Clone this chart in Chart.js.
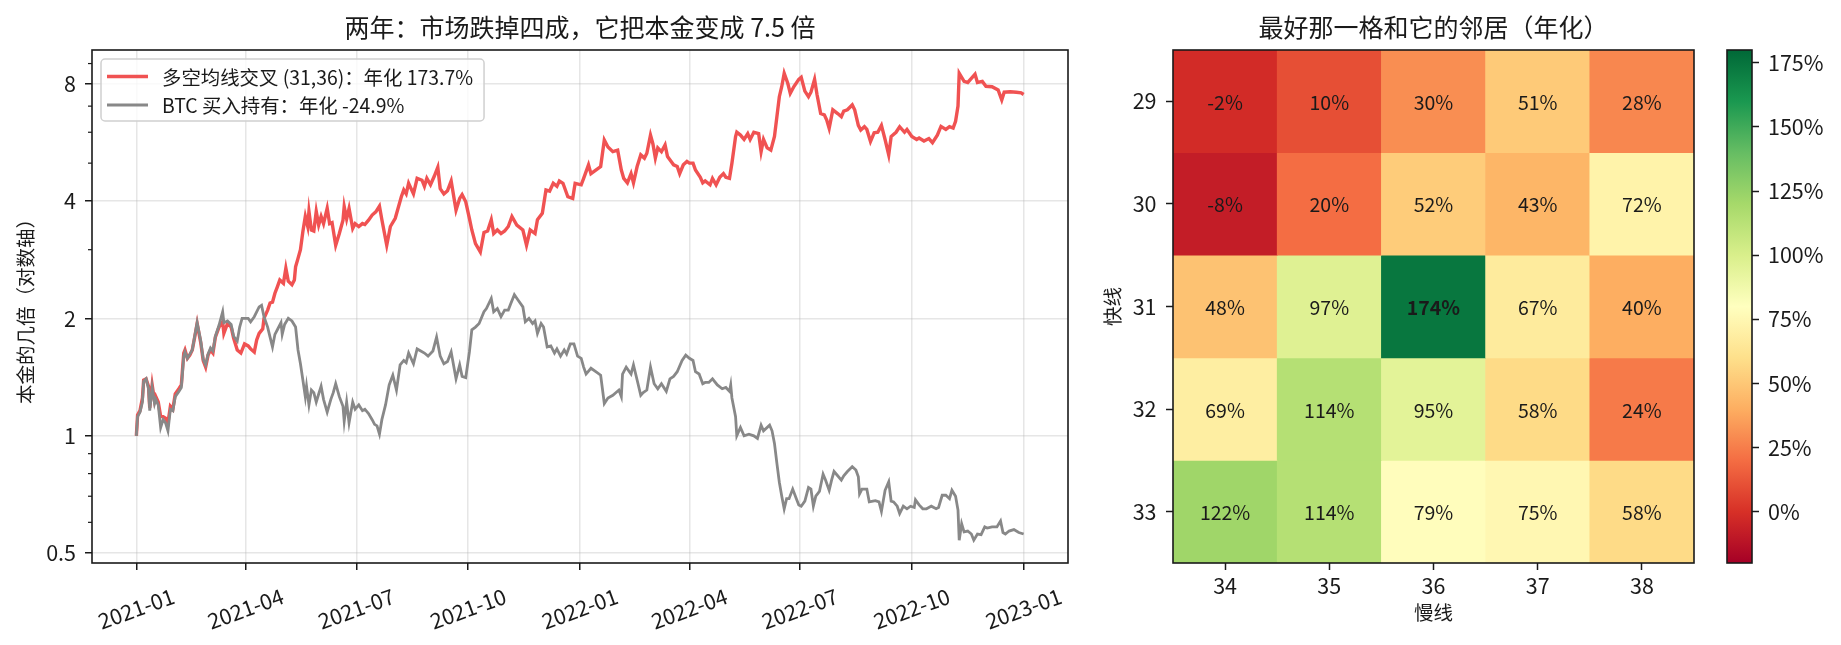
<!DOCTYPE html>
<html>
<head>
<meta charset="utf-8">
<script src="https://cdn.jsdelivr.net/npm/chart.js@4"></script>
<style>
  body { margin: 0; background: #fff; }
  #wrap { position: relative; width: 1841px; height: 645px; }
  canvas { position: absolute; top: 0; }
</style>
</head>
<body>
<div id="wrap">
  <canvas id="curve" width="1100" height="645" style="left:0"></canvas>
  <canvas id="grid" width="610" height="645" style="left:1100px"></canvas>
  <canvas id="cbar" width="131" height="645" style="left:1710px"></canvas>
</div>
<script>
// 左图：净值曲线（按天，起点 2021-01-01）
const startDate = "2021-01-01";
const xTickLabels = ["2021-01", "2021-04", "2021-07", "2021-10", "2022-01", "2022-04", "2022-07", "2022-10", "2023-01"];
const yTickValues = [0.5, 1, 2, 4, 8];
const yMinorValues = [0.6, 0.7, 0.8, 0.9, 3, 5, 6, 7, 9];

const strategyDays = [0,1,3,5,6,8,10,11,13,15,16,18,20,22,24,26,28,30,32,35,37,39,40,42,44,46,48,50,53,55,57,59,61,63,65,68,71,72,75,78,80,83,86,89,92,94,97,99,101,104,105,108,110,112,114,116,118,121,123,125,128,130,131,133,135,137,139,141,142,144,146,148,150,152,154,157,159,161,164,167,170,171,173,175,178,180,183,186,188,191,194,197,200,202,206,209,213,218,220,222,224,228,231,235,237,239,242,245,248,250,253,256,259,263,266,268,271,274,276,279,283,286,289,292,294,297,300,303,306,309,313,318,321,324,328,330,334,337,340,343,346,348,351,355,359,361,366,368,372,374,378,382,385,388,392,396,399,401,404,407,409,412,415,418,420,423,425,427,429,432,435,437,440,442,445,447,450,453,455,458,460,464,466,468,472,474,477,480,483,485,488,490,493,494,497,500,503,505,508,512,514,516,519,522,525,527,529,531,533,536,538,541,545,547,550,553,555,558,560,563,566,568,570,573,577,580,582,585,589,591,594,596,599,601,604,607,610,613,616,619,621,625,628,632,634,638,642,644,648,652,655,659,662,666,669,672,674,676,677,681,684,687,690,692,696,699,704,709,712,714,719,724,728,730];
const strategyValues = [1.00,1.13,1.16,1.25,1.39,1.40,1.34,1.18,1.35,1.23,1.26,1.22,1.12,1.12,1.11,1.08,1.19,1.17,1.28,1.32,1.35,1.63,1.66,1.58,1.61,1.66,1.79,1.94,1.73,1.56,1.50,1.61,1.66,1.63,1.79,1.90,1.96,1.83,1.94,1.90,1.78,1.66,1.63,1.72,1.70,1.67,1.64,1.76,1.83,1.88,2.00,2.10,2.19,2.20,2.32,2.41,2.51,2.46,2.69,2.49,2.44,2.51,2.71,2.85,3.00,3.34,3.65,3.44,3.76,3.37,3.35,3.76,3.47,3.65,3.50,3.83,3.50,3.52,3.08,3.30,3.57,3.87,3.60,3.83,3.40,3.50,3.44,3.50,3.48,3.57,3.68,3.75,3.88,3.58,3.08,3.44,3.61,4.10,4.27,4.17,4.44,4.17,4.57,4.52,4.36,4.57,4.40,4.62,4.88,4.30,4.17,4.25,4.50,3.79,4.06,4.15,3.98,3.61,3.37,3.11,2.96,3.32,3.35,3.58,3.30,3.37,3.30,3.35,3.44,3.65,3.47,3.37,3.08,3.37,3.30,3.58,3.72,4.27,4.24,4.44,4.36,4.50,4.44,4.10,4.06,4.44,4.40,4.57,4.95,4.70,4.80,4.90,5.73,5.50,5.35,5.40,4.80,4.57,4.45,4.70,4.45,4.90,5.25,5.15,5.30,5.90,5.60,5.15,5.47,5.35,5.57,5.20,5.05,4.95,4.90,4.70,4.95,5.05,5.00,5.00,4.80,4.60,4.45,4.50,4.40,4.57,4.40,4.60,4.70,4.60,4.57,5.00,5.85,6.00,5.90,5.75,5.95,5.75,6.00,5.95,5.35,5.75,5.47,5.40,5.85,6.58,7.40,7.86,8.50,8.00,7.55,7.86,8.20,8.30,7.65,7.40,7.60,8.20,7.50,6.70,6.65,6.45,6.14,6.85,6.70,6.58,6.80,6.85,7.05,6.85,6.25,6.08,6.20,6.10,5.68,5.98,6.00,6.25,5.75,5.25,5.85,6.00,6.20,6.00,6.10,5.85,5.75,5.80,5.70,5.78,5.64,5.90,6.21,6.10,6.20,6.15,6.40,7.00,8.50,8.10,8.05,8.25,8.45,8.05,8.10,7.87,7.85,7.70,7.26,7.60,7.62,7.60,7.57,7.50];

const btcDays = [0,1,3,5,6,8,10,11,13,15,16,18,20,22,24,26,28,30,32,35,37,39,40,42,44,46,48,50,53,55,57,59,61,63,65,68,71,72,75,78,80,83,85,87,89,92,94,97,101,103,105,108,110,112,114,116,119,120,122,125,128,131,133,135,137,139,140,142,144,146,148,150,152,154,157,160,162,164,167,170,171,173,175,178,180,183,186,188,191,194,196,198,200,202,205,208,211,214,217,220,222,224,228,231,234,237,240,244,247,250,253,256,259,263,266,268,271,274,276,279,282,286,288,292,294,297,300,303,306,308,311,314,318,320,323,326,328,330,333,335,338,341,344,346,349,352,354,357,360,363,366,368,370,374,378,382,385,388,392,397,399,400,403,407,409,412,415,417,420,423,426,429,432,436,439,442,445,449,452,455,458,460,463,466,468,471,474,478,482,485,488,489,490,493,494,497,500,504,508,511,514,516,521,523,525,527,529,531,533,535,537,540,543,545,547,550,553,555,557,559,562,565,567,570,572,574,577,580,582,585,589,592,594,595,597,601,603,606,608,611,613,616,619,621,623,626,628,631,634,637,640,641,644,647,650,652,654,658,660,663,666,669,671,674,676,677,679,681,684,687,689,692,695,698,700,704,708,711,713,715,718,722,726,730];
const btcValues = [1.00,1.12,1.15,1.22,1.38,1.40,1.32,1.16,1.33,1.21,1.24,1.20,1.05,1.10,1.08,1.03,1.17,1.16,1.26,1.30,1.33,1.60,1.64,1.58,1.62,1.66,1.80,1.95,1.75,1.57,1.52,1.62,1.68,1.65,1.80,1.92,2.08,1.95,1.97,1.93,1.80,1.75,1.90,2.00,2.00,2.00,1.96,2.02,2.14,2.16,2.02,1.90,1.79,1.69,1.82,1.87,1.95,1.82,1.93,2.00,1.97,1.90,1.66,1.53,1.39,1.26,1.34,1.20,1.31,1.29,1.22,1.28,1.34,1.24,1.15,1.24,1.29,1.36,1.26,1.19,1.09,1.22,1.08,1.22,1.17,1.20,1.16,1.17,1.14,1.10,1.07,1.06,1.01,1.10,1.20,1.35,1.43,1.31,1.52,1.56,1.54,1.63,1.53,1.67,1.65,1.63,1.60,1.65,1.79,1.60,1.53,1.55,1.64,1.40,1.52,1.42,1.41,1.64,1.87,1.90,1.94,2.08,2.12,2.25,2.08,2.12,2.02,2.10,2.10,2.18,2.30,2.23,2.14,1.96,2.00,1.94,1.97,1.83,1.94,1.90,1.69,1.70,1.63,1.67,1.60,1.66,1.62,1.72,1.72,1.60,1.58,1.50,1.44,1.49,1.46,1.43,1.21,1.25,1.27,1.31,1.26,1.44,1.50,1.44,1.52,1.39,1.27,1.29,1.31,1.50,1.36,1.32,1.36,1.30,1.40,1.42,1.46,1.56,1.61,1.58,1.56,1.46,1.44,1.36,1.37,1.37,1.40,1.35,1.32,1.33,1.30,1.35,1.25,1.12,1.00,1.05,1.00,1.01,1.00,0.985,1.065,1.03,1.065,1.03,0.956,0.85,0.76,0.70,0.65,0.69,0.69,0.73,0.69,0.665,0.66,0.68,0.737,0.73,0.66,0.70,0.72,0.797,0.77,0.725,0.77,0.81,0.79,0.77,0.79,0.81,0.833,0.817,0.785,0.71,0.73,0.73,0.677,0.68,0.682,0.677,0.64,0.725,0.762,0.68,0.677,0.66,0.632,0.66,0.65,0.66,0.655,0.685,0.665,0.65,0.65,0.655,0.66,0.65,0.655,0.704,0.704,0.69,0.725,0.70,0.645,0.54,0.595,0.567,0.57,0.56,0.54,0.56,0.558,0.584,0.58,0.584,0.584,0.605,0.565,0.56,0.57,0.575,0.565,0.56];

// 右图：参数邻域年化收益（%）
const fastLines = [29, 30, 31, 32, 33];
const slowLines = [34, 35, 36, 37, 38];
const annualReturn = [
  [-2, 10, 30, 51, 28],
  [-8, 20, 52, 43, 72],
  [48, 97, 173.7, 67, 40],
  [69, 114, 95, 58, 24],
  [122, 114, 79, 75, 58]
];
const colorMin = -20;
const colorMax = 180;
const colorbarTicks = [0, 25, 50, 75, 100, 125, 150, 175];

const RDYLGN = ["#a50026", "#d73027", "#f46d43", "#fdae61", "#fee08b", "#ffffbf", "#d9ef8b", "#a6d96a", "#66bd63", "#1a9850", "#006837"];
const INK = "#1a1a1a";
const GRID = "rgba(176,176,176,0.32)";

Chart.defaults.font.family = "'Noto Sans CJK SC', 'Noto Sans', sans-serif";
Chart.defaults.color = INK;

function dayOf(str) {
  const [y, m, d] = str.split("-").map(Number);
  const [y0, m0, d0] = startDate.split("-").map(Number);
  return Math.round((Date.UTC(y, m - 1, d || 1) - Date.UTC(y0, m0 - 1, d0)) / 86400000);
}
const xTickDays = xTickLabels.map(dayOf);

function toPoints(days, values) {
  return days.map((d, i) => ({ x: d, y: values[i] }));
}

function hexToRgb(h) {
  return [1, 3, 5].map(i => parseInt(h.slice(i, i + 2), 16));
}
function rdylgn(v) {
  let t = (v - colorMin) / (colorMax - colorMin);
  t = Math.min(1, Math.max(0, t)) * (RDYLGN.length - 1);
  const i = Math.min(Math.floor(t), RDYLGN.length - 2);
  const f = t - i;
  const a = hexToRgb(RDYLGN[i]), b = hexToRgb(RDYLGN[i + 1]);
  const c = a.map((x, k) => Math.round(x + (b[k] - x) * f));
  return `rgb(${c[0]},${c[1]},${c[2]})`;
}

// 四周黑框
const frame = {
  id: "frame",
  afterDraw(chart) {
    const { ctx, chartArea: a } = chart;
    ctx.save();
    ctx.strokeStyle = INK;
    ctx.lineWidth = 1.6;
    ctx.strokeRect(a.left, a.top, a.right - a.left, a.bottom - a.top);
    ctx.restore();
  }
};

// 对数轴的次刻度
const minorTicks = {
  id: "minorTicks",
  afterDraw(chart) {
    const { ctx, chartArea: a, scales } = chart;
    ctx.save();
    ctx.strokeStyle = INK;
    ctx.lineWidth = 1.2;
    yMinorValues.forEach(v => {
      const y = scales.y.getPixelForValue(v);
      ctx.beginPath();
      ctx.moveTo(a.left - 4, y);
      ctx.lineTo(a.left, y);
      ctx.stroke();
    });
    ctx.restore();
  }
};

// 左上角带框图例
const boxLegend = {
  id: "boxLegend",
  afterDraw(chart) {
    const { ctx, chartArea: a } = chart;
    const sets = chart.data.datasets;
    const left = a.left + 9, top = a.top + 9, rowH = 28.5;
    ctx.save();
    ctx.font = "19.4px 'Noto Sans CJK SC', 'Noto Sans', sans-serif";
    const textX = left + 61;
    const w = Math.max(...sets.map(s => ctx.measureText(s.label).width)) + 61 + 11;
    const h = rowH * sets.length + 5;
    ctx.beginPath();
    ctx.roundRect(left, top, w, h, 4);
    ctx.fillStyle = "rgba(255,255,255,0.8)";
    ctx.fill();
    ctx.strokeStyle = "#d0d0d0";
    ctx.lineWidth = 1.5;
    ctx.stroke();
    sets.forEach((s, i) => {
      const y = top + 17.5 + i * rowH;
      ctx.strokeStyle = s.borderColor;
      ctx.lineWidth = s.borderWidth;
      ctx.beginPath();
      ctx.moveTo(left + 6, y);
      ctx.lineTo(left + 47, y);
      ctx.stroke();
      ctx.fillStyle = INK;
      ctx.textBaseline = "middle";
      ctx.fillText(s.label, textX, y + 1);
    });
    ctx.restore();
  }
};

// 格子里的数字
const cellText = {
  id: "cellText",
  afterDatasetsDraw(chart) {
    const { ctx, scales } = chart;
    const best = Math.max(...annualReturn.flat());
    ctx.save();
    ctx.textAlign = "center";
    ctx.textBaseline = "middle";
    ctx.fillStyle = INK;
    annualReturn.forEach((row, r) => {
      row.forEach((v, c) => {
        const weight = v === best ? "bold " : "";
        ctx.font = weight + "19.5px 'Noto Sans CJK SC', 'Noto Sans', sans-serif";
        ctx.fillText(Math.round(v) + "%", scales.x.getPixelForValue(c), scales.y.getPixelForValue(fastLines[r]) + 1);
      });
    });
    ctx.restore();
  }
};

new Chart(document.getElementById("curve"), {
  type: "line",
  data: {
    datasets: [
      {
        label: "多空均线交叉 (31,36)：年化 173.7%",
        data: toPoints(strategyDays, strategyValues),
        borderColor: "#f05252",
        borderWidth: 3.4,
        pointRadius: 0,
        order: 1
      },
      {
        label: "BTC 买入持有：年化 -24.9%",
        data: toPoints(btcDays, btcValues),
        borderColor: "#888888",
        borderWidth: 2.8,
        pointRadius: 0,
        order: 0
      }
    ]
  },
  options: {
    responsive: false,
    animation: false,
    layout: { padding: { left: 0, right: 32, top: 0, bottom: 0 } },
    plugins: {
      legend: { display: false },
      tooltip: { enabled: false },
      title: {
        display: true,
        fullSize: false,
        text: "两年：市场跌掉四成，它把本金变成 7.5 倍",
        font: { size: 25, weight: "normal" },
        color: INK,
        padding: { top: 12, bottom: 8 }
      }
    },
    scales: {
      x: {
        type: "linear",
        min: -36.5,
        max: 766.5,
        afterBuildTicks: s => { s.ticks = xTickDays.map(v => ({ value: v })); },
        afterFit: s => { s.height = 82; },
        ticks: {
          autoSkip: false,
          minRotation: 20,
          maxRotation: 20,
          labelOffset: 37,
          padding: 13,
          font: { size: 21.5 },
          callback: (v, i) => xTickLabels[i]
        },
        grid: { color: GRID, lineWidth: 1.5, tickColor: INK, tickLength: 7, tickWidth: 1.5 },
        border: { display: false }
      },
      y: {
        type: "logarithmic",
        min: 0.472,
        max: 9.75,
        afterBuildTicks: s => { s.ticks = yTickValues.map(v => ({ value: v })); },
        afterFit: s => { s.width = 92; },
        ticks: { padding: 9, font: { size: 21.5 }, callback: v => String(v) },
        grid: { color: GRID, lineWidth: 1.5, tickColor: INK, tickLength: 7, tickWidth: 1.5 },
        border: { display: false },
        title: { display: true, text: "本金的几倍（对数轴）", font: { size: 19.5 }, padding: { top: 14, bottom: 0 } }
      }
    }
  },
  plugins: [minorTicks, boxLegend, frame]
});

new Chart(document.getElementById("grid"), {
  type: "bar",
  data: {
    labels: slowLines.map(String),
    datasets: fastLines.map((f, r) => ({
      label: String(f),
      data: slowLines.map(() => [f - 0.5, f + 0.5]),
      backgroundColor: annualReturn[r].map(rdylgn),
      grouped: false,
      barPercentage: 1,
      categoryPercentage: 1,
      borderWidth: 0
    }))
  },
  options: {
    responsive: false,
    animation: false,
    layout: { padding: { left: 0, right: 16, top: 0, bottom: 0 } },
    plugins: {
      legend: { display: false },
      tooltip: { enabled: false },
      title: {
        display: true,
        fullSize: false,
        text: "最好那一格和它的邻居（年化）",
        font: { size: 25, weight: "normal" },
        color: INK,
        padding: { top: 12, bottom: 8 }
      }
    },
    scales: {
      x: {
        afterFit: s => { s.height = 82; },
        ticks: { padding: 3, font: { size: 21.5 } },
        grid: { offset: false, drawOnChartArea: false, tickColor: INK, tickLength: 7, tickWidth: 1.5 },
        border: { display: false },
        title: { display: true, text: "慢线", font: { size: 19.5 }, padding: { top: 0, bottom: 21 } }
      },
      y: {
        type: "linear",
        reverse: true,
        min: 28.5,
        max: 33.5,
        afterBuildTicks: s => { s.ticks = fastLines.map(v => ({ value: v })); },
        afterFit: s => { s.width = 73; },
        ticks: { padding: 9.5, font: { size: 21.5 } },
        grid: { drawOnChartArea: false, tickColor: INK, tickLength: 7, tickWidth: 1.5 },
        border: { display: false },
        title: { display: true, text: "快线", font: { size: 19.5 }, padding: { top: 1, bottom: 0 } }
      }
    }
  },
  plugins: [cellText, frame]
});

new Chart(document.getElementById("cbar"), {
  type: "bar",
  data: {
    labels: [""],
    datasets: [{
      data: [[colorMin, colorMax]],
      backgroundColor: c => {
        const { ctx, chartArea } = c.chart;
        if (!chartArea) return null;
        const g = ctx.createLinearGradient(0, chartArea.bottom, 0, chartArea.top);
        RDYLGN.forEach((col, i) => g.addColorStop(i / (RDYLGN.length - 1), col));
        return g;
      },
      barPercentage: 1,
      categoryPercentage: 1,
      borderWidth: 0
    }]
  },
  options: {
    responsive: false,
    animation: false,
    layout: { padding: { left: 17, right: 0, top: 50, bottom: 82 } },
    plugins: { legend: { display: false }, tooltip: { enabled: false } },
    scales: {
      x: { display: false },
      y: {
        position: "right",
        min: colorMin,
        max: colorMax,
        afterBuildTicks: s => { s.ticks = colorbarTicks.map(v => ({ value: v })); },
        afterFit: s => { s.width = 89; },
        ticks: { padding: 9, font: { size: 21.5 }, callback: v => v + "%" },
        grid: { drawOnChartArea: false, tickColor: INK, tickLength: 7, tickWidth: 1.5 },
        border: { display: false }
      }
    }
  },
  plugins: [frame]
});
</script>
</body>
</html>
